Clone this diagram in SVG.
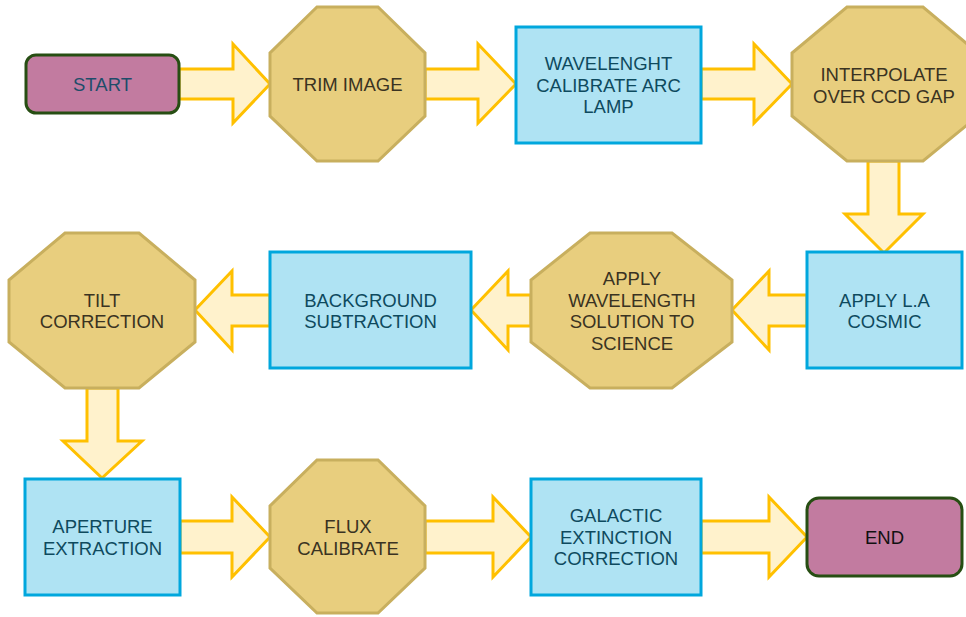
<svg xmlns="http://www.w3.org/2000/svg" width="966" height="617" viewBox="0 0 966 617">
<style>
.term{fill:#C27BA0;stroke:#274E13;stroke-width:3}
.oct{fill:#E8CE7E;stroke:#C8AF5E;stroke-width:3;stroke-linejoin:miter}
.box{fill:#AFE3F3;stroke:#00A7DD;stroke-width:3}
.arr{fill:#FFF2CC;stroke:#FFC000;stroke-width:3;stroke-linejoin:miter}
text{font-family:"Liberation Sans",Arial,sans-serif;font-size:18.5px;text-anchor:middle}
.tb{fill:#0E4A5E}
.to{fill:#3A3322}
.ts{fill:#1E4D6A}
.te{fill:#111}
</style>
<rect width="966" height="617" fill="#fff"/>
<g id="connectors">
<polygon class="arr" points="179,69 233,69 233,44 270,84 233,123 233,99 179,99"/>
<polygon class="arr" points="425,69 478,69 478,44 516,84 478,123 478,99 425,99"/>
<polygon class="arr" points="701,69 754,69 754,44 792,84 754,123 754,99 701,99"/>
<polygon class="arr" points="868,161 899,161 899,214 923,214 884,253 845,214 868,214"/>
<polygon class="arr" points="807,295 769,295 769,271 732,310 769,350 769,326 807,326"/>
<polygon class="arr" points="531,295 508,295 508,271 471,310 508,350 508,326 531,326"/>
<polygon class="arr" points="270,295 232,295 232,271 195,310 232,350 232,326 270,326"/>
<polygon class="arr" points="87,388 118,388 118,441 142,441 102,478 63,441 87,441"/>
<polygon class="arr" points="180,521 232,521 232,497 270,537 232,577 232,553 180,553"/>
<polygon class="arr" points="425,521 493,521 493,497 531,537 493,577 493,553 425,553"/>
<polygon class="arr" points="701,521 769,521 769,497 807,537 769,577 769,553 701,553"/>
</g>
<g id="start">
<rect class="term" x="26" y="55" width="153" height="58" rx="10"/>
<text class="ts" x="102.5" y="91">START</text>
</g>
<g id="trim">
<polygon class="oct" points="317,7 378,7 425,53 425,116 378,161 317,161 270,116 270,53"/>
<text class="to" x="347.5" y="91">TRIM IMAGE</text>
</g>
<g id="wavecal">
<rect class="box" x="516" y="27" width="185" height="116"/>
<text class="tb" x="608.5" y="70">WAVELENGHT</text>
<text class="tb" x="608.5" y="91.5">CALIBRATE ARC</text>
<text class="tb" x="608.5" y="113">LAMP</text>
</g>
<g id="interp">
<polygon class="oct" points="847,7 923,7 978,53 978,116 923,161 847,161 792,116 792,53"/>
<text class="to" x="884" y="81">INTERPOLATE</text>
<text class="to" x="884" y="102.5">OVER CCD GAP</text>
</g>
<g id="cosmic">
<rect class="box" x="807" y="252" width="155" height="116"/>
<text class="tb" x="884.5" y="306.75">APPLY L.A</text>
<text class="tb" x="884.5" y="328.25">COSMIC</text>
</g>
<g id="applywave">
<polygon class="oct" points="590,233 672,233 732,280 732,342 672,388 590,388 531,342 531,280"/>
<text class="to" x="632" y="285.25">APPLY</text>
<text class="to" x="632" y="306.75">WAVELENGTH</text>
<text class="to" x="632" y="328.25">SOLUTION TO</text>
<text class="to" x="632" y="349.75">SCIENCE</text>
</g>
<g id="background">
<rect class="box" x="270" y="252" width="201" height="116"/>
<text class="tb" x="370.5" y="306.75">BACKGROUND</text>
<text class="tb" x="370.5" y="328.25">SUBTRACTION</text>
</g>
<g id="tilt">
<polygon class="oct" points="65,233 139,233 195,280 195,342 139,388 65,388 9,342 9,280"/>
<text class="to" x="102" y="306.75">TILT</text>
<text class="to" x="102" y="328.25">CORRECTION</text>
</g>
<g id="aperture">
<rect class="box" x="25" y="479" width="155" height="116"/>
<text class="tb" x="102.5" y="533.25">APERTURE</text>
<text class="tb" x="102.5" y="554.75">EXTRACTION</text>
</g>
<g id="flux">
<polygon class="oct" points="317,460 378,460 425,506 425,568 378,613 317,613 270,568 270,506"/>
<text class="to" x="348" y="533.25">FLUX</text>
<text class="to" x="348" y="554.75">CALIBRATE</text>
</g>
<g id="galactic">
<rect class="box" x="531" y="479" width="170" height="116"/>
<text class="tb" x="616" y="522">GALACTIC</text>
<text class="tb" x="616" y="543.5">EXTINCTION</text>
<text class="tb" x="616" y="565">CORRECTION</text>
</g>
<g id="end">
<rect class="term" x="807" y="498" width="155" height="78" rx="12"/>
<text class="te" x="884.5" y="544">END</text>
</g>
</svg>
